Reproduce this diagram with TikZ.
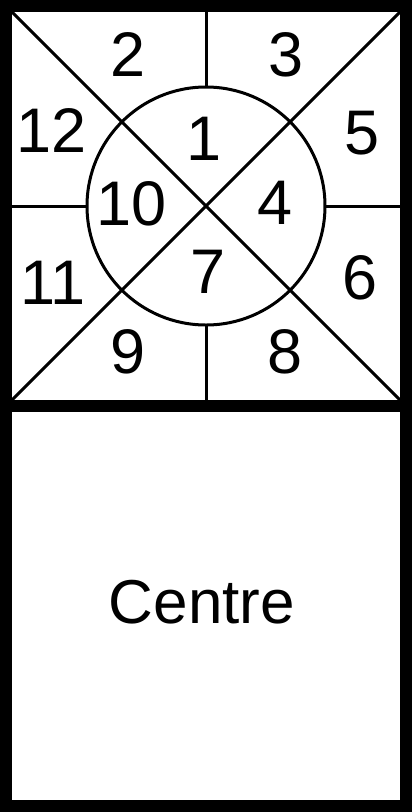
\documentclass[tikz,border=0pt]{standalone}
\usepackage{fontspec}
\setmainfont{Liberation Sans}
\usetikzlibrary{calc}

\begin{document}
\begin{tikzpicture}[x=1pt, y=-1pt,
  frame/.style={draw=black, line width=12pt},
  rule/.style={draw=black, line width=3pt},
  num/.style={inner sep=0pt, font=\fontsize{63}{63}\selectfont},
  label/.style={inner sep=0pt, font=\fontsize{62}{62}\selectfont}
]
  \useasboundingbox (0,0) rectangle (412,812);

  \coordinate (tl) at (6,6);
  \coordinate (tr) at (406,6);
  \coordinate (ml) at (6,406);
  \coordinate (mr) at (406,406);
  \coordinate (bl) at (6,806);
  \coordinate (br) at (406,806);
  \coordinate (c)  at (206,206);

  % house lines
  \draw[rule] (tl) -- (mr);
  \draw[rule] (tr) -- (ml);
  \draw[rule] (c) circle[radius=119];
  \draw[rule] (206,6)   -- (206,87);
  \draw[rule] (206,325) -- (206,406);
  \draw[rule] (6,206)   -- (87,206);
  \draw[rule] (325,206) -- (406,206);

  % outer frame
  \draw[frame] (tl) rectangle (br);
  \draw[frame] (ml) -- (mr);

  \node[num] (h2)  at (128,55)  {2};
  \node[num] (h3)  at (286,55)  {3};
  \node[num] (h12) at (52,131)  {12};
  \node[num] (h1)  at (204,139) {1};
  \node[num] (h5)  at (362,133) {5};
  \node[num] (h10) at (132,204) {10};
  \node[num] (h4)  at (275,203) {4};
  \node[num] (h11) at (53,283)  {11};
  \node[num] (h7)  at (208,272) {7};
  \node[num] (h6)  at (360,278) {6};
  \node[num] (h9)  at (128,352) {9};
  \node[num] (h8)  at (285,352) {8};

  \node[label] (centre) at (202,602) {Centre};
\end{tikzpicture}
\end{document}
